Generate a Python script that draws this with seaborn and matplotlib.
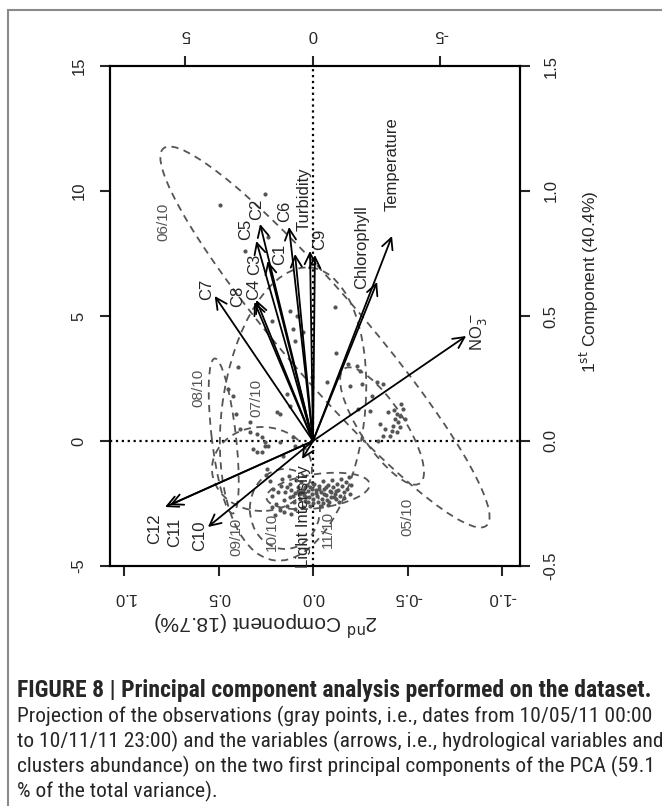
import numpy as np
import pandas as pd
import matplotlib
matplotlib.use('Agg')
import matplotlib.pyplot as plt
import seaborn as sns
from matplotlib.patches import Ellipse
from matplotlib import font_manager

# --- variables (arrows): loadings on 2nd component (horizontal) and 1st component (vertical)
variables = ['C7', 'C8', 'C4', 'C3', 'C5', 'C2', 'C1', 'C6', 'Turbidity', 'C9',
             'Chlorophyll', 'Temperature', 'NO3', 'C12', 'C11', 'C10', 'Light Intensity']
load_pc2 = [0.52, 0.31, 0.30, 0.24, 0.30, 0.28, 0.095, 0.127, 0.016, -0.01,
            -0.339, -0.418, -0.81, 0.783, 0.757, 0.556, 0.058]
load_pc1 = [0.58, 0.556, 0.564, 0.72, 0.80, 0.868, 0.748, 0.856, 0.76, 0.744,
            0.636, 0.82, 0.42, -0.264, -0.256, -0.344, -0.072]

# --- observations (gray points): scores on 2nd and 1st component
score_pc2 = [3.65, 1.88, 1.76, 2.67, 0.9, 0.63, 1.61, 0.78, 0.39, 0.71, -0.86, -0.9, -0.55, -1.37,
             -1.73, -1.84, -1.45, -1.92, -2.51, -2.75, -2.31, -1.76, -2.24, 0.04, 1.02, 1.29, 1.41, 0.9,
             -2.94, -3.29, -3.41, -3.53, -3.22, -3.33, -2.63, -2.82, -3.1, -3.29, -3.02, -2.75, -3.45,
             -3.18, -3.6, -2.55, -3.4, -3.15,
             3.33, 3.14, 3.02, 2.86, 2.94, 2.47, 2.47, 2.2, 2.0, 1.88, 2.35, 2.2, 1.88, 1.29, 2.0, 1.76,
             0.78, 0.71, 1.18, 1.8,
             1.85, 1.7, 1.55, 1.6, 1.45, 1.3, 1.5, 1.2, 1.25, 1.1, 1.15, 1.0, 0.95, 0.9, 0.85, 0.8, 0.75,
             0.7, 0.65, 0.6, 0.55, 0.5, 0.45, 0.4, 0.35, 0.3, 0.25, 0.2, 0.15, 0.1, 0.05, 0.0, -0.05,
             -0.1, -0.15, -0.2, -0.25, -0.3, -0.35, -0.4, -0.45, -0.5, -0.55, -0.6, -0.65, -0.7, -0.75,
             -0.8, -0.85, -0.9, -0.95, -1.0, -1.05, -1.1, -1.15, -1.2, -1.3, -1.35, -1.45, -1.5, -0.3,
             0.1, 0.4, -0.6, 0.58, 0.28, -0.12, -0.42, -0.72, -0.92, 0.02, 0.32, -0.22, -0.52, -0.82,
             -0.62, 0.18, 0.48, 0.72, 0.92, -0.02, -0.38, 1.02, 1.38, 1.62, 1.12, 0.88, -1.22, -1.02, -1.4]
score_pc1 = [9.44, 9.88, 8.16, 7.6, 5.2, 5.0, 4.8, 4.48, 4.36, 4.0, 5.36, 3.52, 2.36, 3.08,
             3.0, 2.8, 2.2, 2.28, 2.36, 2.28, 1.8, 1.28, 1.2, 2.56, 1.88, 1.08, 1.16, 1.4,
             1.16, 1.08, 1.0, 1.28, 0.88, 0.76, 0.68, 0.48, 0.4, 0.36, 0.2, 0.2, 1.48,
             1.24, 0.88, 0.0, 0.55, 0.62,
             2.08, 1.8, 1.08, 0.48, 2.96, 0.76, 0.36, 0.28, 0.16, -0.04, -0.32, -0.44, -0.2, -0.04, -0.44, -0.2,
             0.16, -0.2, -0.6, -1.12,
             -1.35, -1.6, -1.9, -2.2, -2.5, -2.75, -2.95, -1.5, -1.8, -2.05, -2.35, -2.6, -1.4, -1.7, -1.95, -2.2, -2.45,
             -2.7, -1.55, -1.85, -2.1, -2.3, -1.65, -1.95, -2.15, -2.4, -1.75, -2.0, -2.25, -1.85, -2.1, -2.3, -1.7,
             -1.95, -2.2, -2.45, -1.8, -2.05, -2.3, -1.6, -1.9, -2.15, -2.35, -1.75, -2.0, -2.25, -1.55,
             -1.85, -2.1, -2.3, -1.7, -1.95, -2.2, -1.5, -1.8, -2.05, -1.65, -1.9, -2.1, -1.75, -2.6,
             -2.6, -2.65, -2.55, -1.98, -2.22, -2.08, -2.12, -2.02, -1.98, -1.92, -1.82, -1.92, -1.82, -2.22,
             -2.42, -2.42, -2.02, -2.08, -2.22, -2.48, -2.46, -1.82, -2.02, -2.62, -2.82, -2.9, -2.28, -2.42, -1.45]

# --- cluster ellipses (months) in score units
clusters = ['05/10', '06/10', '07/10', '08/10', '09/10', '10/10', '11/10']
ell_pc2 = [-2.71, -0.47, 0.78, 3.5, 2.0, 1.1, -0.2]
ell_pc1 = [0.6, 4.16, 1.08, 0.2, -1.12, -2.72, -2.0]
ell_major = [5.46, 19.7, 11.8, 6.24, 3.92, 3.2, 4.08]
ell_minor = [1.75, 3.3, 5.6, 0.95, 3.36, 2.75, 1.36]
ell_angle = [57.4, 50.0, 97.0, 83.5, 0.0, 90.0, -8.0]
# where the month names sit
lab_pc2 = [-3.69, 5.88, 2.2, 4.51, 3.02, 1.61, -0.59]
lab_pc1 = [-3.04, 8.76, 1.72, 2.12, -3.84, -3.64, -3.52]

# label offsets from arrow tips (pixels)
lab_off = {'C7': (-8, 7), 'C8': (-17, 6), 'C4': (-3, 11), 'C3': (-13, -3), 'C5': (-11, 12),
           'C2': (-3, 15), 'C1': (-15, 0), 'C6': (-4, 16), 'Turbidity': (-6, 52), 'C9': (5, 16),
           'Chlorophyll': (-15, 35), 'Temperature': (0, 72), 'NO3': (12, 4), 'C12': (-10, -22),
           'C11': (5, -27), 'C10': (-8, -9), 'Light Intensity': (1, -58)}

sns.set_style('ticks')
plt.rcParams['font.family'] = ['Liberation Sans', 'DejaVu Sans']

W, H = 662, 806
fig = plt.figure(figsize=(W / 100, H / 100), dpi=100)

box = [110 / W, 1 - 566 / H, 410 / W, 500 / H]
ax = fig.add_axes(box)
ax2 = fig.add_axes(box)
ax2.patch.set_visible(False)

grey = '#555555'
df = pd.DataFrame({'pc2': score_pc2, 'pc1': score_pc1})
sns.scatterplot(data=df, x='pc2', y='pc1', ax=ax, color=grey, s=9, linewidth=0, zorder=2)

for i, name in enumerate(clusters):
    e = Ellipse((ell_pc2[i], ell_pc1[i]), ell_major[i], ell_minor[i], angle=ell_angle[i],
                fill=False, edgecolor=grey, lw=1.3, ls=(0, (4, 3)), zorder=2)
    ax.add_patch(e)
    ax.text(lab_pc2[i], lab_pc1[i], name, rotation=90, color=grey, fontsize=11,
            ha='center', va='center')

ax.axhline(0, color='black', ls=':', lw=1.6, zorder=1)
ax.axvline(0, color='black', ls=':', lw=1.6, zorder=1)

ax.set_xlim(7.96, -8.12)
ax.set_ylim(-5, 15)
ax2.set_xlim(1.074, -1.095)
ax2.set_ylim(-0.5, 1.5)

for i, v in enumerate(variables):
    ax2.annotate('', xy=(load_pc2[i], load_pc1[i]), xytext=(0, 0),
                 arrowprops=dict(arrowstyle='->,head_length=0.8,head_width=0.4',
                                 color='black', lw=1.3, shrinkA=0, shrinkB=0))
    txt = r'NO$_3^-$' if v == 'NO3' else v
    dx, dy = lab_off[v]
    ax2.annotate(txt, xy=(load_pc2[i], load_pc1[i]), xytext=(dx, dy), textcoords='offset pixels',
                 rotation=90, ha='center', va='center', fontsize=12)

# score axes: top and left
ax.xaxis.tick_top()
ax.set_xticks([5, 0, -5])
ax.set_xticklabels(['5', '0', '-5'], rotation=180)
ax.set_yticks([-5, 0, 5, 10, 15])
ax.set_yticklabels(['-5', '0', '5', '10', '15'], rotation=90, va='center')
ax.tick_params(direction='out', length=7, width=1.5, labelsize=12, pad=10)
ax.set_xlabel('')
ax.set_ylabel('')

# loading axes: bottom and right
ax2.yaxis.tick_right()
ax2.set_xticks([1.0, 0.5, 0.0, -0.5, -1.0])
ax2.set_xticklabels(['1.0', '0.5', '0.0', '-0.5', '-1.0'], rotation=180)
ax2.set_yticks([-0.5, 0.0, 0.5, 1.0, 1.5])
ax2.set_yticklabels(['-0.5', '0.0', '0.5', '1.0', '1.5'], rotation=90, va='center')
ax2.tick_params(direction='out', length=7, width=1.5, labelsize=12, pad=10)

for a in (ax, ax2):
    for s in a.spines.values():
        s.set_visible(True)
        s.set_linewidth(1.5)
        s.set_color('black')

fig.text(589 / W, 1 - 282 / H, r'1$^{\rm st}$ Component (40.4%)', rotation=90,
         ha='center', va='center', fontsize=12.5)
fig.text(266 / W, 1 - 623 / H, r'2$^{\rm nd}$ Component (18.7%)', rotation=180,
         ha='center', va='center', fontsize=15)

# page frame
fig.add_artist(plt.Rectangle((8 / W, -0.05), 1.2, 1.05 - 10 / H, transform=fig.transFigure,
                             fill=False, edgecolor='#8a8a8a', lw=1.5))

# caption, in a narrow face if one is installed, sized to fill the frame width
installed = {f.name for f in font_manager.fontManager.ttflist}
cap_font = next((f for f in ['Liberation Sans Narrow', 'Noto Sans Condensed', 'Roboto Condensed',
                             'DejaVu Sans Condensed', 'Roboto'] if f in installed), 'Liberation Sans')
cap_title = 'FIGURE 8 | Principal component analysis performed on the dataset.'
cap = ['Projection of the observations (gray points, i.e., dates from 10/05/11 00:00',
       'to 10/11/11 23:00) and the variables (arrows, i.e., hydrological variables and',
       'clusters abundance) on the two first principal components of the PCA (59.1',
       '% of the total variance).']
renderer = fig.canvas.get_renderer()
t0 = fig.text(17 / W, 1 - 691 / H, cap_title, family=cap_font, fontweight='bold', fontsize=15, va='center')
w0 = t0.get_window_extent(renderer).width
t0.set_fontsize(15 * 634 / w0)
probe = fig.text(0, 0, cap[0], family=cap_font, fontsize=15)
size = 15 * 634 / probe.get_window_extent(renderer).width
probe.remove()
for k, line in enumerate(cap):
    fig.text(17 / W, 1 - (716 + 25.2 * k) / H, line, family=cap_font, fontsize=size, va='center')

fig.savefig('out.png', dpi=100)
